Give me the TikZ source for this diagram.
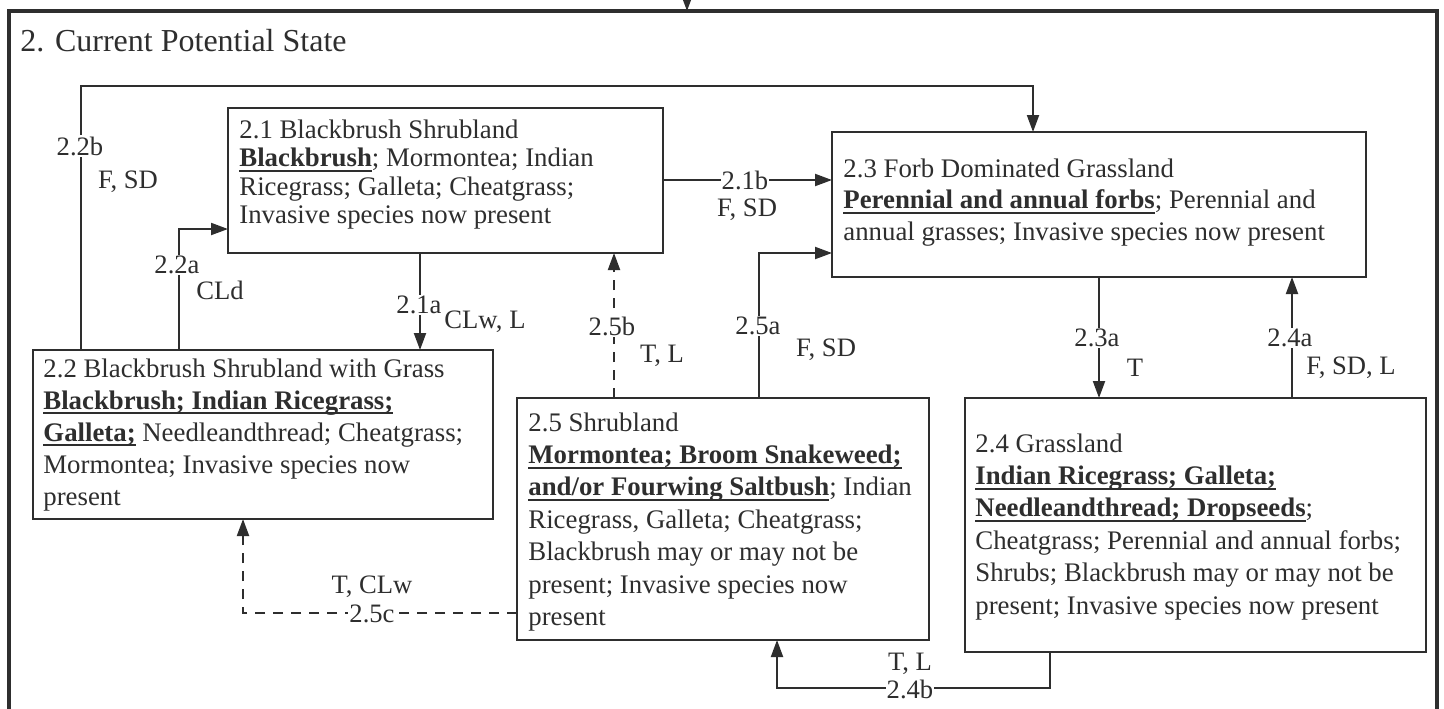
\documentclass[tikz,border=0pt]{standalone}
\usepackage{fontspec}
\setmainfont{Liberation Serif}
\usetikzlibrary{arrows.meta,calc}
\definecolor{ink}{HTML}{2E2E2E}
\definecolor{txt}{HTML}{2E2E2E}
\newsavebox{\ubfbox}
\newcommand\ubf[1]{\sbox{\ubfbox}{\textbf{#1}}\rlap{\rule[-2.6pt]{\wd\ubfbox}{0.9pt}}\usebox{\ubfbox}}
\tikzset{
  box/.style={draw=ink, line width=1pt, rectangle, inner sep=0pt, outer sep=0pt, anchor=north west},
  conn/.style={draw=ink, line width=1pt, -{Triangle[length=8.5pt,width=6pt]}},
  dconn/.style={conn, dash pattern=on 5pt off 4pt},
  lbl/.style={font=\fontsize{13.3}{15}\selectfont, text=txt, inner sep=0.6pt},
  lblw/.style={lbl, fill=white},
  body/.style={anchor=base west, inner sep=0pt, text=txt},
}
\begin{document}
\begin{tikzpicture}[x=0.5pt, y=-0.5pt]
\useasboundingbox (0,0) rectangle (1444,708);
\clip (0,0) rectangle (1444,708);
\fill[white] (0,0) rectangle (1444,708);

% outer frame
\coordinate (ftl) at (9,11);
\coordinate (ftr) at (1437,11);
\coordinate (fbl) at (9,730);
\coordinate (fbr) at (1437,730);
\draw[draw=ink, line width=1.6pt] (fbl) -- (ftl) -- (ftr) -- (fbr);
\coordinate (inA) at (687,-4);
\draw[conn] (inA) -- (inA |- ftl);

\node[anchor=base west, inner sep=0pt, text=txt, font=\fontsize{16}{19}\selectfont] (title) at (20,51) {2. Current Potential State};

% boxes
\node[box, minimum width={435*0.5pt}, minimum height={145*0.5pt}] (b21) at (228,108) {};
\node[box, minimum width={534*0.5pt}, minimum height={145*0.5pt}] (b23) at (832,132) {};
\node[box, minimum width={460*0.5pt}, minimum height={169*0.5pt}] (b22) at (33,350) {};
\node[box, minimum width={412*0.5pt}, minimum height={242*0.5pt}] (b25) at (517,398) {};
\node[box, minimum width={461*0.5pt}, minimum height={254*0.5pt}] (b24) at (965,398) {};

% box texts
\node[body, font=\fontsize{13.4}{14.3}\selectfont] (t21) at (239,138) {\begin{tabular}[t]{@{}l@{}}
2.1 Blackbrush Shrubland\\
\ubf{Blackbrush}; Mormontea; Indian\\
Ricegrass; Galleta; Cheatgrass;\\
Invasive species now present\end{tabular}};

\node[body, font=\fontsize{13.4}{15.9}\selectfont] (t23) at (843,177) {\begin{tabular}[t]{@{}l@{}}
2.3 Forb Dominated Grassland\\
\ubf{Perennial and annual forbs}; Perennial and\\
annual grasses; Invasive species now present\end{tabular}};

\node[body, font=\fontsize{13.4}{16}\selectfont] (t22) at (43,377) {\begin{tabular}[t]{@{}l@{}}
2.2 Blackbrush Shrubland with Grass\\
\ubf{Blackbrush; Indian Ricegrass;}\\
\ubf{Galleta;} Needleandthread; Cheatgrass;\\
Mormontea; Invasive species now\\
present\end{tabular}};

\node[body, font=\fontsize{13.4}{16.2}\selectfont] (t25) at (528,431) {\begin{tabular}[t]{@{}l@{}}
2.5 Shrubland\\
\ubf{Mormontea; Broom Snakeweed;}\\
\ubf{and/or Fourwing Saltbush}; Indian\\
Ricegrass, Galleta; Cheatgrass;\\
Blackbrush may or may not be\\
present; Invasive species now\\
present\end{tabular}};

\node[body, font=\fontsize{13.4}{16.2}\selectfont] (t24) at (975,452) {\begin{tabular}[t]{@{}l@{}}
2.4 Grassland\\
\ubf{Indian Ricegrass; Galleta;}\\
\ubf{Needleandthread; Dropseeds};\\
Cheatgrass; Perennial and annual forbs;\\
Shrubs; Blackbrush may or may not be\\
present; Invasive species now present\end{tabular}};

% connectors
\coordinate (k22b) at (81,86);
\coordinate (k22bR) at (1033,86);
\draw[conn] (k22b |- b22.north) -- (k22b) -- (k22bR) -- (k22bR |- b23.north);
\node[lblw] (l22b) at (80,146) {2.2b};
\node[lbl] (f22b) at (128,182) {F, SD};

\coordinate (k22a) at (179,229);
\draw[conn] (k22a |- b22.north) -- (k22a) -- (k22a -| b21.west);
\node[lblw] (l22a) at (177,265) {2.2a};
\node[lbl] (f22a) at (220,290) {CLd};

\coordinate (k21a) at (420,300);
\draw[conn] (k21a |- b21.south) -- (k21a |- b22.north);
\node[lblw] (l21a) at (419,305) {2.1a};
\node[lbl] (f21a) at (485,322) {CLw, L};

\coordinate (k21b) at (700,180);
\draw[conn] (k21b -| b21.east) -- (k21b -| b23.west);
\node[lblw] (l21b) at (745,180) {2.1b};
\node[lbl] (f21b) at (747,210) {F, SD};

\coordinate (k25b) at (614,320);
\draw[dconn] (k25b |- b25.north) -- (k25b |- b21.south);
\node[lblw] (l25b) at (612,326) {2.5b};
\node[lbl] (f25b) at (662,356) {T, L};

\coordinate (k25a) at (759,253);
\draw[conn] (k25a |- b25.north) -- (k25a) -- (k25a -| b23.west);
\node[lblw] (l25a) at (758,326) {2.5a};
\node[lbl] (f25a) at (826,350) {F, SD};

\coordinate (k23a) at (1099,330);
\draw[conn] (k23a |- b23.south) -- (k23a |- b24.north);
\node[lblw] (l23a) at (1097,338) {2.3a};
\node[lbl] (f23a) at (1135,368) {T};

\coordinate (k24a) at (1292,330);
\draw[conn] (k24a |- b24.north) -- (k24a |- b23.south);
\node[lblw] (l24a) at (1290,338) {2.4a};
\node[lbl] (f24a) at (1351,368) {F, SD, L};

\coordinate (k25c) at (243,613);
\draw[dconn] (k25c -| b25.west) -- (k25c) -- (k25c |- b22.south);
\node[lblw] (l25c) at (372,614) {2.5c};
\node[lbl] (f25c) at (372,587) {T, CLw};

\coordinate (k24bR) at (1050,688);
\coordinate (k24bL) at (777,688);
\draw[conn] (k24bR |- b24.south) -- (k24bR) -- (k24bL) -- (k24bL |- b25.south);
\node[lblw] (l24b) at (910,689) {2.4b};
\node[lbl] (f24b) at (910,664) {T, L};
\end{tikzpicture}
\end{document}
